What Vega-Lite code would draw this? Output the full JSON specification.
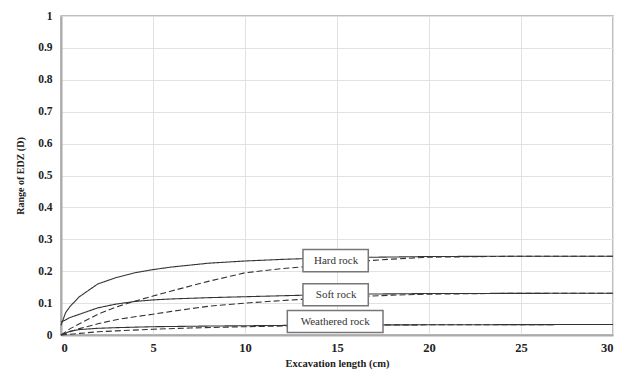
{
  "$schema": "https://vega.github.io/schema/vega-lite/v6.json",
  "width": 552,
  "height": 319,
  "autosize": "none",
  "padding": {"left": 61, "top": 16, "right": 8, "bottom": 46},
  "background": "white",
  "config": {
    "view": {"stroke": "#aaaaaa", "strokeWidth": 1.5},
    "font": "Liberation Serif",
    "axis": {
      "labelFont": "Liberation Serif",
      "titleFont": "Liberation Serif",
      "labelFontWeight": "bold",
      "titleFontWeight": "bold",
      "labelColor": "#222",
      "titleColor": "#222",
      "gridColor": "#e2e2e2",
      "domainColor": "#aaaaaa",
      "domainWidth": 2,
      "ticks": false
    }
  },
  "datasets": {
    "curves": [
      {"rock": "Hard rock", "kind": "solid", "x": 0, "d": 0.03},
      {"rock": "Hard rock", "kind": "solid", "x": 0.25, "d": 0.07},
      {"rock": "Hard rock", "kind": "solid", "x": 0.5, "d": 0.09},
      {"rock": "Hard rock", "kind": "solid", "x": 1, "d": 0.12},
      {"rock": "Hard rock", "kind": "solid", "x": 2, "d": 0.16},
      {"rock": "Hard rock", "kind": "solid", "x": 3, "d": 0.18},
      {"rock": "Hard rock", "kind": "solid", "x": 4, "d": 0.195},
      {"rock": "Hard rock", "kind": "solid", "x": 5, "d": 0.205},
      {"rock": "Hard rock", "kind": "solid", "x": 6, "d": 0.213},
      {"rock": "Hard rock", "kind": "solid", "x": 8, "d": 0.225},
      {"rock": "Hard rock", "kind": "solid", "x": 10, "d": 0.232},
      {"rock": "Hard rock", "kind": "solid", "x": 12, "d": 0.237},
      {"rock": "Hard rock", "kind": "solid", "x": 14, "d": 0.241},
      {"rock": "Hard rock", "kind": "solid", "x": 16, "d": 0.243},
      {"rock": "Hard rock", "kind": "solid", "x": 20, "d": 0.246},
      {"rock": "Hard rock", "kind": "solid", "x": 25, "d": 0.247},
      {"rock": "Hard rock", "kind": "solid", "x": 30, "d": 0.247},
      {"rock": "Hard rock", "kind": "dashed", "x": 0, "d": 0},
      {"rock": "Hard rock", "kind": "dashed", "x": 0.5, "d": 0.02},
      {"rock": "Hard rock", "kind": "dashed", "x": 1, "d": 0.035},
      {"rock": "Hard rock", "kind": "dashed", "x": 2, "d": 0.065},
      {"rock": "Hard rock", "kind": "dashed", "x": 3, "d": 0.088},
      {"rock": "Hard rock", "kind": "dashed", "x": 4, "d": 0.106},
      {"rock": "Hard rock", "kind": "dashed", "x": 5, "d": 0.122},
      {"rock": "Hard rock", "kind": "dashed", "x": 6, "d": 0.138},
      {"rock": "Hard rock", "kind": "dashed", "x": 8, "d": 0.168},
      {"rock": "Hard rock", "kind": "dashed", "x": 10, "d": 0.195},
      {"rock": "Hard rock", "kind": "dashed", "x": 12, "d": 0.208},
      {"rock": "Hard rock", "kind": "dashed", "x": 14, "d": 0.218},
      {"rock": "Hard rock", "kind": "dashed", "x": 16, "d": 0.23},
      {"rock": "Hard rock", "kind": "dashed", "x": 18, "d": 0.238},
      {"rock": "Hard rock", "kind": "dashed", "x": 20, "d": 0.244},
      {"rock": "Hard rock", "kind": "dashed", "x": 25, "d": 0.247},
      {"rock": "Hard rock", "kind": "dashed", "x": 30, "d": 0.247},
      {"rock": "Soft rock", "kind": "solid", "x": 0, "d": 0.04},
      {"rock": "Soft rock", "kind": "solid", "x": 0.5, "d": 0.055},
      {"rock": "Soft rock", "kind": "solid", "x": 1, "d": 0.065},
      {"rock": "Soft rock", "kind": "solid", "x": 2, "d": 0.085},
      {"rock": "Soft rock", "kind": "solid", "x": 3, "d": 0.097},
      {"rock": "Soft rock", "kind": "solid", "x": 4, "d": 0.105},
      {"rock": "Soft rock", "kind": "solid", "x": 5, "d": 0.11},
      {"rock": "Soft rock", "kind": "solid", "x": 6, "d": 0.113},
      {"rock": "Soft rock", "kind": "solid", "x": 8, "d": 0.117},
      {"rock": "Soft rock", "kind": "solid", "x": 10, "d": 0.12},
      {"rock": "Soft rock", "kind": "solid", "x": 12, "d": 0.123},
      {"rock": "Soft rock", "kind": "solid", "x": 14, "d": 0.126},
      {"rock": "Soft rock", "kind": "solid", "x": 16, "d": 0.128},
      {"rock": "Soft rock", "kind": "solid", "x": 20, "d": 0.13},
      {"rock": "Soft rock", "kind": "solid", "x": 30, "d": 0.131},
      {"rock": "Soft rock", "kind": "dashed", "x": 0, "d": 0},
      {"rock": "Soft rock", "kind": "dashed", "x": 1, "d": 0.02},
      {"rock": "Soft rock", "kind": "dashed", "x": 2, "d": 0.035},
      {"rock": "Soft rock", "kind": "dashed", "x": 3, "d": 0.048},
      {"rock": "Soft rock", "kind": "dashed", "x": 4, "d": 0.057},
      {"rock": "Soft rock", "kind": "dashed", "x": 5, "d": 0.065},
      {"rock": "Soft rock", "kind": "dashed", "x": 6, "d": 0.074},
      {"rock": "Soft rock", "kind": "dashed", "x": 8, "d": 0.09},
      {"rock": "Soft rock", "kind": "dashed", "x": 10, "d": 0.1},
      {"rock": "Soft rock", "kind": "dashed", "x": 12, "d": 0.108},
      {"rock": "Soft rock", "kind": "dashed", "x": 14, "d": 0.115},
      {"rock": "Soft rock", "kind": "dashed", "x": 16, "d": 0.12},
      {"rock": "Soft rock", "kind": "dashed", "x": 18, "d": 0.125},
      {"rock": "Soft rock", "kind": "dashed", "x": 20, "d": 0.128},
      {"rock": "Soft rock", "kind": "dashed", "x": 25, "d": 0.131},
      {"rock": "Soft rock", "kind": "dashed", "x": 30, "d": 0.131},
      {"rock": "Weathered rock", "kind": "solid", "x": 0, "d": 0},
      {"rock": "Weathered rock", "kind": "solid", "x": 0.5, "d": 0.012},
      {"rock": "Weathered rock", "kind": "solid", "x": 1, "d": 0.017},
      {"rock": "Weathered rock", "kind": "solid", "x": 2, "d": 0.021},
      {"rock": "Weathered rock", "kind": "solid", "x": 3, "d": 0.023},
      {"rock": "Weathered rock", "kind": "solid", "x": 5, "d": 0.026},
      {"rock": "Weathered rock", "kind": "solid", "x": 8, "d": 0.028},
      {"rock": "Weathered rock", "kind": "solid", "x": 10, "d": 0.029},
      {"rock": "Weathered rock", "kind": "solid", "x": 14, "d": 0.031},
      {"rock": "Weathered rock", "kind": "solid", "x": 20, "d": 0.032},
      {"rock": "Weathered rock", "kind": "solid", "x": 30, "d": 0.033},
      {"rock": "Weathered rock", "kind": "dashed", "x": 0, "d": 0},
      {"rock": "Weathered rock", "kind": "dashed", "x": 1, "d": 0.005},
      {"rock": "Weathered rock", "kind": "dashed", "x": 2, "d": 0.01},
      {"rock": "Weathered rock", "kind": "dashed", "x": 3, "d": 0.013},
      {"rock": "Weathered rock", "kind": "dashed", "x": 5, "d": 0.018},
      {"rock": "Weathered rock", "kind": "dashed", "x": 7, "d": 0.022},
      {"rock": "Weathered rock", "kind": "dashed", "x": 10, "d": 0.026},
      {"rock": "Weathered rock", "kind": "dashed", "x": 13, "d": 0.029},
      {"rock": "Weathered rock", "kind": "dashed", "x": 16, "d": 0.031},
      {"rock": "Weathered rock", "kind": "dashed", "x": 20, "d": 0.032},
      {"rock": "Weathered rock", "kind": "dashed", "x": 30, "d": 0.033}
    ],
    "labels": [
      {"rock": "Hard rock", "x": 14.95, "d": 0.233, "x1": 13.15, "x2": 16.7, "d1": 0.198, "d2": 0.268},
      {"rock": "Soft rock", "x": 14.95, "d": 0.126, "x1": 13.15, "x2": 16.7, "d1": 0.092, "d2": 0.161},
      {"rock": "Weathered rock", "x": 14.9, "d": 0.042, "x1": 12.3, "x2": 17.5, "d1": 0.008, "d2": 0.077}
    ]
  },
  "layer": [
    {
      "data": {"name": "curves"},
      "mark": {"type": "line", "strokeWidth": 1.1, "color": "#333333"},
      "encoding": {
        "x": {
          "field": "x", "type": "quantitative",
          "scale": {"domain": [0, 30], "nice": false},
          "axis": {"values": [0, 5, 10, 15, 20, 25, 30], "labelOverlap": false, "title": "Excavation length (cm)", "labelFontSize": 12.5, "titleFontSize": 10.5, "labelPadding": 6, "titlePadding": 5}
        },
        "y": {
          "field": "d", "type": "quantitative",
          "scale": {"domain": [0, 1], "nice": false},
          "axis": {"values": [0, 0.1, 0.2, 0.3, 0.4, 0.5, 0.6, 0.7, 0.8, 0.9, 1], "labelOverlap": false, "labelExpr": "format(datum.value, '~g')", "title": "Range of EDZ (D)", "labelFontSize": 11.5, "titleFontSize": 10, "labelPadding": 9, "titlePadding": 12}
        },
        "detail": {"field": "rock"},
        "strokeDash": {
          "field": "kind", "type": "nominal",
          "scale": {"domain": ["solid", "dashed"], "range": [[1, 0], [6, 3]]},
          "legend": null
        }
      }
    },
    {
      "data": {"name": "labels"},
      "mark": {"type": "rect", "fill": "white", "stroke": "#777777", "strokeWidth": 1.5},
      "encoding": {
        "x": {"field": "x1", "type": "quantitative",
          "axis": {"values": [0, 5, 10, 15, 20, 25, 30], "labelOverlap": false, "title": "Excavation length (cm)", "labelFontSize": 12.5, "titleFontSize": 10.5, "labelPadding": 6, "titlePadding": 5}},
        "x2": {"field": "x2"},
        "y": {"field": "d1", "type": "quantitative",
          "axis": {"values": [0, 0.1, 0.2, 0.3, 0.4, 0.5, 0.6, 0.7, 0.8, 0.9, 1], "labelOverlap": false, "labelExpr": "format(datum.value, '~g')", "title": "Range of EDZ (D)", "labelFontSize": 11.5, "titleFontSize": 10, "labelPadding": 9, "titlePadding": 12}},
        "y2": {"field": "d2"}
      }
    },
    {
      "data": {"name": "labels"},
      "mark": {"type": "text", "font": "Liberation Serif", "fontSize": 11, "color": "#333333", "align": "center", "baseline": "middle"},
      "encoding": {
        "x": {"field": "x", "type": "quantitative",
          "axis": {"values": [0, 5, 10, 15, 20, 25, 30], "labelOverlap": false, "title": "Excavation length (cm)", "labelFontSize": 12.5, "titleFontSize": 10.5, "labelPadding": 6, "titlePadding": 5}},
        "y": {"field": "d", "type": "quantitative",
          "axis": {"values": [0, 0.1, 0.2, 0.3, 0.4, 0.5, 0.6, 0.7, 0.8, 0.9, 1], "labelOverlap": false, "labelExpr": "format(datum.value, '~g')", "title": "Range of EDZ (D)", "labelFontSize": 11.5, "titleFontSize": 10, "labelPadding": 9, "titlePadding": 12}},
        "text": {"field": "rock"}
      }
    }
  ]
}
